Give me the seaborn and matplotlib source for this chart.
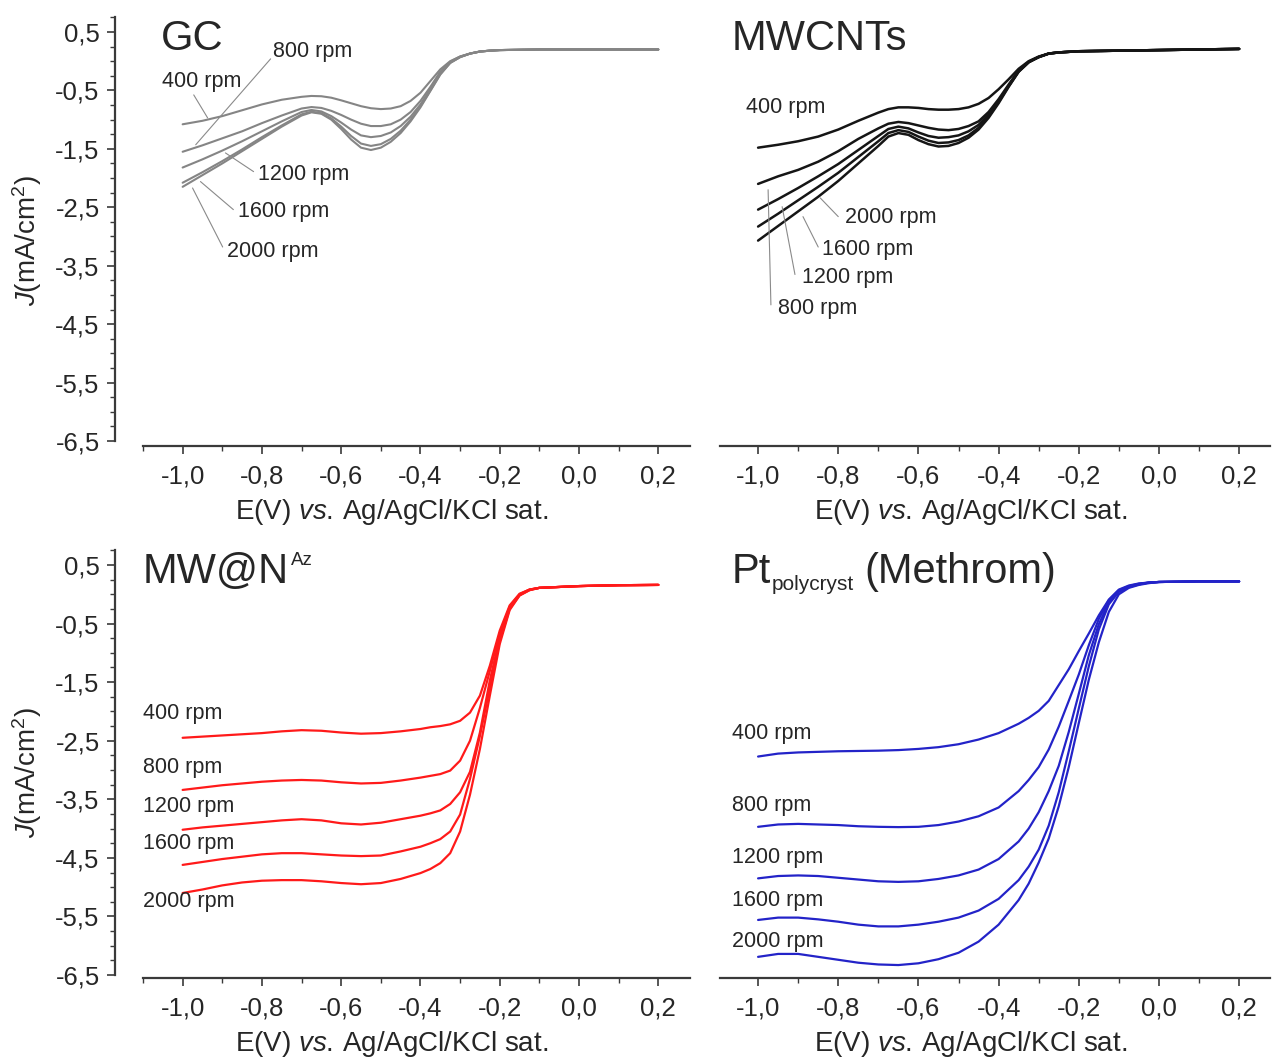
import numpy as np
import pandas as pd
import matplotlib
matplotlib.use("Agg")
import matplotlib.pyplot as plt
import seaborn as sns
from matplotlib.ticker import FixedLocator, MultipleLocator

# ---------------- DATA ----------------
rpms = [400, 800, 1200, 1600, 2000]
rpm_labels = ["400 rpm", "800 rpm", "1200 rpm", "1600 rpm", "2000 rpm"]

x_ticks = [-1.0, -0.8, -0.6, -0.4, -0.2, 0.0, 0.2]
x_tick_labels = ["-1,0", "-0,8", "-0,6", "-0,4", "-0,2", "0,0", "0,2"]
y_ticks = [0.5, -0.5, -1.5, -2.5, -3.5, -4.5, -5.5, -6.5]
y_tick_labels = ["0,5", "-0,5", "-1,5", "-2,5", "-3,5", "-4,5", "-5,5", "-6,5"]

# GC and MWCNTs share this potential grid
E_top = [-1.0, -0.95, -0.9, -0.85, -0.8, -0.75, -0.7, -0.675, -0.65, -0.625, -0.6, -0.575,
         -0.55, -0.525, -0.5, -0.475, -0.45, -0.425, -0.4, -0.375, -0.35, -0.325, -0.3,
         -0.275, -0.25, -0.225, -0.2, -0.15, -0.1, 0.0, 0.1, 0.2]

gc_J = {
    400:  [-1.08, -1.02, -0.94, -0.84, -0.74, -0.66, -0.61, -0.595, -0.60, -0.625, -0.67, -0.72,
           -0.77, -0.805, -0.82, -0.81, -0.77, -0.68, -0.54, -0.34, -0.14, 0.00, 0.08,
           0.13, 0.165, 0.18, 0.19, 0.195, 0.20, 0.20, 0.20, 0.20],
    800:  [-1.55, -1.44, -1.32, -1.20, -1.06, -0.93, -0.81, -0.785, -0.80, -0.85, -0.92, -1.00,
           -1.07, -1.11, -1.11, -1.08, -1.00, -0.87, -0.68, -0.44, -0.18, -0.01, 0.08,
           0.13, 0.165, 0.18, 0.19, 0.195, 0.20, 0.20, 0.20, 0.20],
    1200: [-1.82, -1.68, -1.53, -1.37, -1.20, -1.03, -0.87, -0.835, -0.86, -0.94, -1.05, -1.17,
           -1.27, -1.30, -1.28, -1.22, -1.11, -0.95, -0.74, -0.48, -0.20, -0.02, 0.07,
           0.13, 0.165, 0.18, 0.19, 0.195, 0.20, 0.20, 0.20, 0.20],
    1600: [-2.08, -1.90, -1.71, -1.51, -1.30, -1.10, -0.91, -0.865, -0.89, -0.98, -1.12, -1.28,
           -1.41, -1.45, -1.42, -1.33, -1.19, -1.00, -0.77, -0.50, -0.22, -0.03, 0.07,
           0.13, 0.165, 0.18, 0.19, 0.195, 0.20, 0.20, 0.20, 0.20],
    2000: [-2.15, -1.95, -1.75, -1.54, -1.33, -1.12, -0.93, -0.875, -0.90, -1.00, -1.16, -1.34,
           -1.48, -1.52, -1.48, -1.38, -1.23, -1.03, -0.79, -0.51, -0.23, -0.03, 0.07,
           0.13, 0.165, 0.18, 0.19, 0.195, 0.20, 0.20, 0.20, 0.20],
}

mw_J = {
    400:  [-1.48, -1.43, -1.37, -1.29, -1.17, -1.02, -0.88, -0.82, -0.79, -0.79, -0.80, -0.82,
           -0.83, -0.83, -0.82, -0.79, -0.73, -0.63, -0.48, -0.31, -0.13, 0.00, 0.08,
           0.13, 0.15, 0.16, 0.17, 0.175, 0.18, 0.19, 0.20, 0.21],
    800:  [-2.10, -1.97, -1.86, -1.72, -1.54, -1.33, -1.15, -1.07, -1.04, -1.06, -1.10, -1.14,
           -1.17, -1.18, -1.16, -1.11, -1.03, -0.87, -0.65, -0.40, -0.16, -0.01, 0.07,
           0.13, 0.15, 0.16, 0.17, 0.175, 0.18, 0.19, 0.20, 0.21],
    1200: [-2.54, -2.36, -2.17, -1.97, -1.76, -1.52, -1.28, -1.16, -1.12, -1.15, -1.22, -1.28,
           -1.31, -1.30, -1.27, -1.20, -1.09, -0.91, -0.68, -0.42, -0.17, -0.01, 0.07,
           0.13, 0.15, 0.16, 0.17, 0.175, 0.18, 0.19, 0.20, 0.21],
    1600: [-2.83, -2.61, -2.38, -2.15, -1.91, -1.64, -1.37, -1.23, -1.18, -1.21, -1.29, -1.36,
           -1.40, -1.39, -1.35, -1.27, -1.14, -0.95, -0.70, -0.43, -0.18, -0.02, 0.07,
           0.13, 0.15, 0.16, 0.17, 0.175, 0.18, 0.19, 0.20, 0.21],
    2000: [-3.07, -2.82, -2.57, -2.32, -2.05, -1.75, -1.45, -1.29, -1.23, -1.26, -1.35, -1.42,
           -1.46, -1.45, -1.40, -1.31, -1.17, -0.97, -0.72, -0.44, -0.18, -0.02, 0.07,
           0.13, 0.15, 0.16, 0.17, 0.175, 0.18, 0.19, 0.20, 0.21],
}

E_az = [-1.0, -0.95, -0.9, -0.85, -0.8, -0.75, -0.7, -0.65, -0.6, -0.55, -0.5, -0.45, -0.4,
        -0.375, -0.35, -0.325, -0.3, -0.275, -0.25, -0.225, -0.2, -0.175, -0.15, -0.125,
        -0.1, 0.0, 0.1, 0.2]
az_J = {
    400:  [-2.45, -2.43, -2.41, -2.39, -2.37, -2.34, -2.32, -2.33, -2.36, -2.38, -2.37, -2.34,
           -2.30, -2.27, -2.25, -2.22, -2.16, -2.02, -1.73, -1.22, -0.62, -0.19, 0.01, 0.08,
           0.11, 0.14, 0.155, 0.16],
    800:  [-3.34, -3.30, -3.26, -3.23, -3.20, -3.18, -3.17, -3.18, -3.21, -3.23, -3.22, -3.18,
           -3.13, -3.10, -3.07, -3.01, -2.84, -2.50, -1.94, -1.31, -0.67, -0.21, 0.00, 0.08,
           0.11, 0.14, 0.155, 0.16],
    1200: [-4.02, -3.98, -3.95, -3.92, -3.89, -3.86, -3.84, -3.86, -3.91, -3.93, -3.90, -3.84,
           -3.78, -3.74, -3.69, -3.58, -3.38, -3.03, -2.36, -1.47, -0.74, -0.23, -0.01, 0.08,
           0.11, 0.14, 0.155, 0.16],
    1600: [-4.62, -4.57, -4.52, -4.48, -4.44, -4.42, -4.42, -4.44, -4.46, -4.47, -4.46, -4.39,
           -4.31, -4.25, -4.18, -4.05, -3.76, -3.15, -2.42, -1.60, -0.80, -0.25, -0.02, 0.07,
           0.11, 0.14, 0.155, 0.16],
    2000: [-5.10, -5.04, -4.97, -4.92, -4.89, -4.88, -4.88, -4.90, -4.93, -4.95, -4.93, -4.86,
           -4.76, -4.69, -4.59, -4.42, -4.05, -3.42, -2.64, -1.73, -0.85, -0.27, -0.02, 0.07,
           0.11, 0.14, 0.155, 0.16],
}

E_pt = [-1.0, -0.95, -0.9, -0.85, -0.8, -0.75, -0.7, -0.65, -0.6, -0.55, -0.5, -0.45, -0.4,
        -0.35, -0.325, -0.3, -0.275, -0.25, -0.225, -0.2, -0.175, -0.15, -0.125, -0.1,
        -0.075, -0.05, -0.025, 0.0, 0.1, 0.2]
pt_J = {
    400:  [-2.77, -2.72, -2.70, -2.69, -2.68, -2.675, -2.67, -2.66, -2.64, -2.61, -2.56, -2.48,
           -2.37, -2.21, -2.11, -1.99, -1.82, -1.55, -1.28, -0.97, -0.67, -0.36, -0.09, 0.08,
           0.15, 0.185, 0.20, 0.21, 0.22, 0.22],
    800:  [-3.97, -3.93, -3.92, -3.93, -3.94, -3.96, -3.97, -3.975, -3.97, -3.94, -3.88, -3.79,
           -3.64, -3.36, -3.17, -2.95, -2.65, -2.26, -1.82, -1.37, -0.87, -0.42, -0.10, 0.07,
           0.14, 0.18, 0.20, 0.21, 0.22, 0.22],
    1200: [-4.85, -4.81, -4.80, -4.81, -4.84, -4.87, -4.90, -4.91, -4.90, -4.86, -4.80, -4.70,
           -4.52, -4.22, -4.00, -3.72, -3.36, -2.93, -2.35, -1.70, -1.04, -0.51, -0.14, 0.05,
           0.13, 0.17, 0.20, 0.21, 0.22, 0.22],
    1600: [-5.56, -5.52, -5.52, -5.55, -5.59, -5.64, -5.67, -5.67, -5.64, -5.59, -5.52, -5.40,
           -5.20, -4.88, -4.65, -4.36, -3.95, -3.38, -2.68, -1.95, -1.23, -0.60, -0.17, 0.04,
           0.12, 0.17, 0.20, 0.21, 0.22, 0.22],
    2000: [-6.19, -6.14, -6.14, -6.19, -6.24, -6.29, -6.32, -6.33, -6.30, -6.23, -6.12, -5.93,
           -5.64, -5.22, -4.94, -4.58, -4.17, -3.62, -2.95, -2.20, -1.46, -0.82, -0.30, 0.00,
           0.11, 0.16, 0.19, 0.21, 0.22, 0.22],
}

# ---------------- STYLE ----------------
sns.set_style("ticks")
plt.rcParams['font.family'] = ['Liberation Sans', 'DejaVu Sans']
plt.rcParams['mathtext.fontset'] = 'custom'
plt.rcParams['mathtext.rm'] = 'Liberation Sans'
plt.rcParams['mathtext.it'] = 'Liberation Sans:italic'
plt.rcParams['mathtext.bf'] = 'Liberation Sans:bold'

TXT = '#262626'
AX = '#3a3a3a'
TICK_FS = 18.5
LAB_FS = 20
RPM_FS = 15.5
TITLE_FS = 30

fig = plt.figure(figsize=(12.72, 10.57), dpi=100)
W, H = 1272.0, 1057.0


def make_ax(left, right, top, bottom):
    return fig.add_axes([left / W, (H - bottom) / H, (right - left) / W, (bottom - top) / H])


ax_gc = make_ax(143, 690, 17, 446)
ax_mw = make_ax(720, 1270, 17, 446)
ax_az = make_ax(143, 690, 550, 978)
ax_pt = make_ax(720, 1270, 550, 978)


def style(ax, xlim, ylim, show_y):
    ax.set_xlim(*xlim)
    ax.set_ylim(*ylim)
    ax.set_facecolor('white')
    for s in ['top', 'right']:
        ax.spines[s].set_visible(False)
    ax.spines['bottom'].set_linewidth(1.6)
    ax.spines['bottom'].set_color(AX)
    ax.xaxis.set_major_locator(FixedLocator(x_ticks))
    ax.set_xticklabels(x_tick_labels)
    ax.xaxis.set_minor_locator(MultipleLocator(0.1))
    ax.tick_params(axis='x', which='major', direction='out', length=6, width=1.2,
                   color=AX, labelsize=TICK_FS, labelcolor=TXT, pad=7)
    ax.tick_params(axis='x', which='minor', direction='out', length=3.5, width=1.0, color=AX)
    if show_y:
        ax.spines['left'].set_position(('outward', 20.2))
        ax.spines['left'].set_bounds(-6.5, ylim[1])
        ax.spines['left'].set_linewidth(1.6)
        ax.spines['left'].set_color(AX)
        ax.yaxis.set_major_locator(FixedLocator(y_ticks))
        ax.set_yticklabels(y_tick_labels)
        ax.yaxis.set_minor_locator(FixedLocator(list(np.arange(-6.5, 0.76, 0.25))))
        ax.tick_params(axis='y', which='major', direction='out', length=6, width=1.2,
                       color=AX, labelsize=TICK_FS, labelcolor=TXT, pad=5)
        ax.tick_params(axis='y', which='minor', direction='out', length=3.5, width=1.0, color=AX)
        ax.set_ylabel(r"$\it{J}$(mA/cm$^2$)", fontsize=LAB_FS, color=TXT)
        ax.yaxis.set_label_coords(-0.181, 0.48)
    else:
        ax.spines['left'].set_visible(False)
        ax.tick_params(axis='y', which='both', left=False, labelleft=False)
        ax.set_ylabel("")
    ax.set_xlabel(r"$\mathrm{E(V)}\ \mathit{vs.}\,\mathrm{Ag/AgCl/KCl\ sat.}$",
                  fontsize=LAB_FS, color=TXT)
    ax.xaxis.set_label_coords(0.455, -0.119)


def draw(ax, E, Jd, color, lw):
    for r in rpms:
        df = pd.DataFrame({"E": E, "J": Jd[r]})
        sns.lineplot(data=df, x="E", y="J", ax=ax, color=color, lw=lw, sort=False)


draw(ax_gc, E_top, gc_J, '#858585', 1.5)
draw(ax_mw, E_top, mw_J, '#151515', 1.8)
draw(ax_az, E_az, az_J, '#ff1a1a', 1.6)
draw(ax_pt, E_pt, pt_J, '#2323c8', 1.6)

style(ax_gc, (-1.1, 0.28), (-6.585, 0.756), True)
style(ax_mw, (-1.095, 0.277), (-6.585, 0.756), False)
style(ax_az, (-1.1, 0.28), (-6.551, 0.756), True)
style(ax_pt, (-1.095, 0.277), (-6.551, 0.756), False)

LEAD = dict(arrowstyle='-', lw=0.8, color='#8a8a8a', shrinkA=0, shrinkB=0)

# GC labels
gc_text_pos = {400: (-1.053, -0.34), 800: (-0.771, 0.16), 1200: (-0.811, -1.94),
               1600: (-0.861, -2.58), 2000: (-0.887, -3.26)}
gc_lines = {400: ((-0.972, -0.577), (-0.937, -0.97)), 800: ((-0.778, 0.04), (-0.967, -1.43)),
            1200: ((-0.821, -1.89), (-0.892, -1.57)), 1600: ((-0.872, -2.54), (-0.955, -2.06)),
            2000: ((-0.899, -3.18), (-0.975, -2.17))}
for r, lab in zip(rpms, rpm_labels):
    x, y = gc_text_pos[r]
    ax_gc.text(x, y, lab, fontsize=RPM_FS, color=TXT, ha='left', va='center')
    a, b = gc_lines[r]
    ax_gc.annotate("", xy=b, xytext=a, arrowprops=LEAD)

# MWCNT labels
mw_text_pos = {400: (-1.03, -0.80), 800: (-0.95, -4.24), 1200: (-0.89, -3.70),
               1600: (-0.84, -3.23), 2000: (-0.783, -2.68)}
mw_lines = {800: ((-0.968, -4.17), (-0.975, -2.2)), 1200: ((-0.908, -3.65), (-0.94, -2.49)),
            1600: ((-0.85, -3.18), (-0.888, -2.66)), 2000: ((-0.80, -2.66), (-0.845, -2.34))}
for r, lab in zip(rpms, rpm_labels):
    x, y = mw_text_pos[r]
    ax_mw.text(x, y, lab, fontsize=RPM_FS, color=TXT, ha='left', va='center')
    if r in mw_lines:
        a, b = mw_lines[r]
        ax_mw.annotate("", xy=b, xytext=a, arrowprops=LEAD)

# MW@N labels
az_text_pos = {400: (-1.10, -2.04), 800: (-1.10, -2.95), 1200: (-1.10, -3.63),
               1600: (-1.10, -4.25), 2000: (-1.10, -5.25)}
for r, lab in zip(rpms, rpm_labels):
    x, y = az_text_pos[r]
    ax_az.text(x, y, lab, fontsize=RPM_FS, color=TXT, ha='left', va='center')

# Pt labels
pt_text_pos = {400: (-1.065, -2.37), 800: (-1.065, -3.61), 1200: (-1.065, -4.50),
               1600: (-1.065, -5.22), 2000: (-1.065, -5.92)}
for r, lab in zip(rpms, rpm_labels):
    x, y = pt_text_pos[r]
    ax_pt.text(x, y, lab, fontsize=RPM_FS, color=TXT, ha='left', va='center')

# Titles
ax_gc.text(-1.055, 0.19, "GC", fontsize=TITLE_FS, color=TXT, ha='left', va='baseline')
ax_mw.text(-1.065, 0.19, "MWCNTs", fontsize=TITLE_FS, color=TXT, ha='left', va='baseline')
t_mw = ax_az.text(-1.10, 0.19, "MW@N", fontsize=TITLE_FS, color=TXT, ha='left', va='baseline')
t_pt = ax_pt.text(-1.065, 0.19, "Pt", fontsize=TITLE_FS, color=TXT, ha='left', va='baseline')

fig.canvas.draw()
rend = fig.canvas.get_renderer()
bb = t_mw.get_window_extent(rend)
ax_az.annotate("Az", xy=(bb.x1, 0.50), xycoords=('figure pixels', 'data'),
               xytext=(1.5, 0), textcoords='offset points',
               fontsize=13.5, color=TXT, ha='left', va='baseline')
bb = t_pt.get_window_extent(rend)
t_sub = ax_pt.annotate("polycryst", xy=(bb.x1, 0.07), xycoords=('figure pixels', 'data'),
                       xytext=(0.5, 0), textcoords='offset points',
                       fontsize=15, color=TXT, ha='left', va='baseline')
fig.canvas.draw()
bb2 = t_sub.get_window_extent(rend)
ax_pt.annotate("(Methrom)", xy=(bb2.x1, 0.19), xycoords=('figure pixels', 'data'),
               xytext=(7, 0), textcoords='offset points',
               fontsize=TITLE_FS, color=TXT, ha='left', va='baseline')

fig.savefig("out.png", dpi=100, facecolor='white')
